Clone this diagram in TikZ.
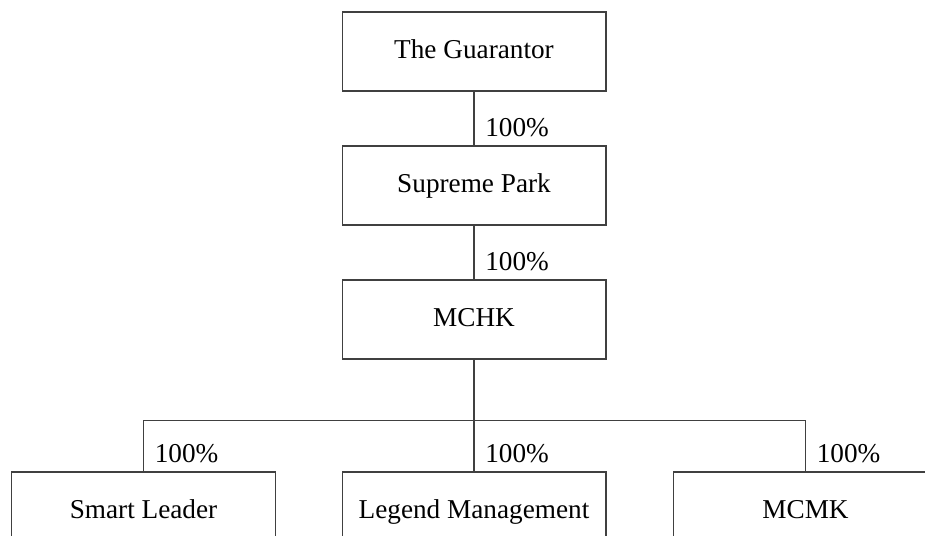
\documentclass[tikz,border=0pt]{standalone}
\usepackage{fontspec}
\setmainfont{Liberation Serif}
\usetikzlibrary{positioning}

\def\BoxW{5.28cm}
\def\BoxH{1.58cm}
\def\LineCol{black!75}

\tikzset{
  entity/.style={draw=\LineCol, line width=0.6pt, minimum width=\BoxW,
    minimum height=\BoxH, inner sep=0pt, text height=11pt, text depth=3pt,
    font=\fontsize{15.5}{18}\selectfont},
  share/.style={anchor=base west, inner sep=0pt, font=\fontsize{15.5}{18}\selectfont},
  link/.style={draw=\LineCol, line width=0.6pt}
}

\begin{document}
\begin{tikzpicture}[x=0.02cm,y=-0.02cm]
  \useasboundingbox (0,0) rectangle (925,542);
  % --- Cadena de control ---
  \node[entity] (guar) at (474,51.5)  {The Guarantor};
  \node[entity] (sp)   at (474,185.5) {Supreme Park};
  \node[entity] (mchk) at (474,319.5) {MCHK};
  % --- Filiales (cortadas por el borde) ---
  \begin{scope}
    \clip (0,0) rectangle (925,535);
    \foreach \x/\n/\t in {%
      143.5/sl/Smart Leader,
      474/lm/Legend Management,
      805.5/mcmk/MCMK
    }{
      \node[entity] (\n) at (\x,511.5) {\t};
    }
  \end{scope}
  % --- Conectores ---
  \draw[link] (guar) -- (sp);
  \draw[link] (sp) -- (mchk);
  \draw[link] (mchk.south) -- ++(0,61) coordinate (bus);
  \draw[link] (bus) -| (sl.north);
  \draw[link] (bus) -| (mcmk.north);
  \draw[link] (bus) -- (lm.north);
  % --- Porcentajes ---
  \foreach \n in {sp,mchk,sl,lm,mcmk}
  {
    \node[share] (pct\n) at ([shift={(11,-8.5)}]\n.north) {100\%};
  }
\end{tikzpicture}
\end{document}
